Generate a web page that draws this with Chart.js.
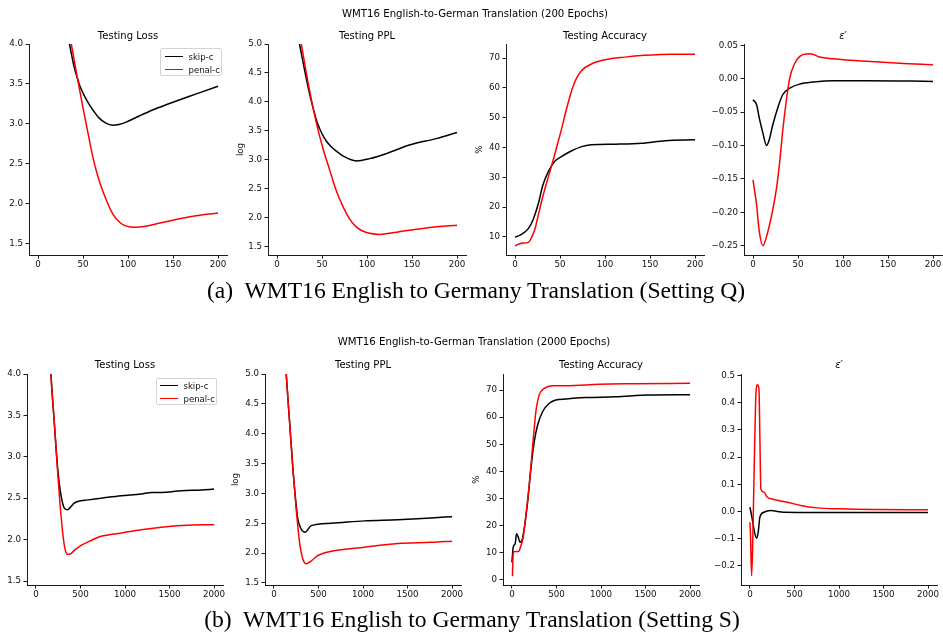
<!DOCTYPE html>
<html>
<head>
<meta charset="utf-8">
<script src="https://cdn.jsdelivr.net/npm/chart.js@4.4.0/dist/chart.umd.min.js"></script>
<style>
body { margin: 0; background: #fff; }
#fig { position: relative; width: 943px; height: 632px; overflow: hidden; font-family: "DejaVu Sans", sans-serif; color: #000; }
#fig canvas { position: absolute; }
.t { position: absolute; white-space: pre; line-height: 1; transform: translate(-50%, -50%); }
.ttl { font-size: 10px; }
.sup { font-size: 10.2px; }
.cap { font-family: "Liberation Serif", serif; font-size: 23.6px; }
.leg { position: absolute; border: 1px solid #d4d4d4; border-radius: 2px; background: #fff; box-sizing: border-box; }
.leg span { position: absolute; }
.leg .ln { height: 0; border-top: 1.5px solid; }
.leg .lb { font-size: 8.5px; line-height: 1; transform: translateY(-50%); color: #111; }
</style>
</head>
<body>
<div id="fig"></div>
<script>
// series names / colours
const seriesNames = ['skip-c', 'penal-c'];
const seriesColors = ['#000000', '#ff0000'];

// tick labels
const xTicksQ = [0, 50, 100, 150, 200];
const xTicksS = [0, 500, 1000, 1500, 2000];
const yTicksLoss = [1.5, 2.0, 2.5, 3.0, 3.5, 4.0];
const yTicksPPL = [1.5, 2.0, 2.5, 3.0, 3.5, 4.0, 4.5, 5.0];
const yTicksAccQ = [10, 20, 30, 40, 50, 60, 70];
const yTicksAccS = [0, 10, 20, 30, 40, 50, 60, 70];
const yTicksEpsQ = [-0.25, -0.20, -0.15, -0.10, -0.05, 0.00, 0.05];
const yTicksEpsS = [-0.2, -0.1, 0.0, 0.1, 0.2, 0.3, 0.4, 0.5];

// (a) setting Q, 200 epochs  -- [epoch, value]
const lossQSkip = [[22,4.75],[28,4.4],[35,4.0],[40,3.72],[44,3.56],[46,3.49],[52,3.34],[57,3.24],[63,3.14],[68,3.07],[75,3.01],[83,2.98],[90,2.99],[98,3.02],[113,3.1],[128,3.175],[150,3.27],[180,3.39],[200,3.47]];
const lossQPenal = [[25,4.75],[31,4.37],[37,4.0],[44,3.56],[50,3.2],[57,2.8],[61,2.58],[65,2.4],[69,2.25],[76,2.04],[83,1.87],[91,1.76],[98,1.715],[108,1.70],[118,1.71],[130,1.74],[150,1.79],[172,1.84],[200,1.88]];
const pplQSkip = [[20,5.42],[25,5.0],[30,4.6],[35,4.22],[40,3.9],[45,3.63],[50,3.45],[55,3.32],[60,3.23],[66,3.15],[74,3.06],[88,2.98],[103,3.02],[122,3.11],[148,3.26],[178,3.37],[200,3.47]];
const pplQPenal = [[22,5.45],[27,5.0],[36,4.21],[44,3.62],[51,3.2],[59,2.8],[66,2.46],[74,2.17],[81,1.97],[88,1.84],[95,1.77],[103,1.73],[114,1.71],[133,1.75],[155,1.8],[178,1.845],[200,1.87]];
const accQSkip = [[0,9.9],[7,10.9],[15,12.9],[20,15.7],[26,21.3],[31,27.4],[37,31.9],[44,35.3],[52,37],[63,38.9],[74,40.3],[85,40.9],[111,41.1],[141,41.4],[167,42.3],[200,42.6]];
const accQPenal = [[0,7],[7,7.9],[15,8.2],[18,9.6],[22,12.5],[26,17.5],[30,22.5],[35,28],[40,33.2],[44,37.5],[48,42],[52,46.5],[56,51.5],[60,56],[64,60],[68,63],[74,65.8],[85,68],[100,69.4],[122,70.3],[144,70.9],[174,71.3],[200,71.3]];
const epsQSkip = [[0,-0.0315],[4,-0.039],[7,-0.059],[11,-0.0815],[15,-0.1],[18,-0.0915],[22,-0.069],[28,-0.0415],[33,-0.024],[41,-0.014],[52,-0.008],[67,-0.005],[89,-0.003],[126,-0.003],[200,-0.004]];
const epsQPenal = [[0,-0.1515],[4,-0.189],[7,-0.229],[11,-0.25],[15,-0.2365],[20,-0.209],[26,-0.165],[30,-0.12],[33,-0.078],[37,-0.033],[41,0.002],[46,0.022],[52,0.0335],[59,0.037],[65,0.037],[74,0.0325],[89,0.03],[126,0.026],[163,0.023],[200,0.021]];

// (b) setting S, 2000 epochs
const lossSSkip = [[120,5.2],[169,4.0],[206,3.42],[244,2.86],[281,2.54],[319,2.38],[356,2.36],[394,2.4],[430,2.44],[469,2.46],[582,2.48],[732,2.5],[957,2.53],[1182,2.55],[1300,2.57],[1407,2.57],[1632,2.59],[1857,2.6],[2000,2.61]];
const lossSPenal = [[120,5.2],[169,4.0],[206,3.42],[244,2.82],[281,2.3],[319,1.93],[356,1.82],[394,1.83],[431,1.87],[507,1.93],[619,1.99],[732,2.04],[957,2.08],[1182,2.12],[1407,2.15],[1632,2.17],[1857,2.18],[2000,2.18]];
const pplSSkip = [[100,6.0],[138,5.0],[176,4.2],[213,3.42],[250,2.8],[269,2.57],[307,2.4],[350,2.35],[419,2.46],[643,2.5],[1017,2.54],[1391,2.56],[1764,2.59],[2000,2.61]];
const pplSPenal = [[100,6.0],[138,5.0],[176,4.2],[213,3.42],[250,2.74],[288,2.18],[325,1.9],[363,1.82],[419,1.87],[493,1.96],[643,2.03],[1017,2.1],[1391,2.16],[1764,2.18],[2000,2.2]];
const accSSkip = [[0,6.5],[15,12.1],[37,13.4],[52,17],[71,15.8],[90,13.9],[112,14.5],[138,18.9],[176,28.7],[213,41],[250,50.9],[288,57],[344,62],[419,65.1],[493,66.3],[606,66.7],[830,67.2],[1166,67.5],[1540,68.2],[2000,68.3]];
const accSPenal = [[6,1.4],[15,10.2],[45,10.5],[75,10.5],[101,12.7],[127,15.8],[157,23.8],[194,34.9],[232,49],[269,62],[307,68.2],[363,70.6],[456,71.6],[606,71.6],[980,72.1],[1353,72.3],[2000,72.5]];
const epsSSkip = [[0,0.0157],[26,-0.0275],[52,-0.077],[75,-0.098],[93,-0.077],[112,-0.021],[157,-0.003],[232,0.003],[381,-0.003],[755,-0.004],[2000,-0.004]];
const epsSPenal = [[0,-0.04],[7,-0.089],[19,-0.237],[30,-0.138],[45,0.108],[64,0.404],[82,0.466],[101,0.453],[112,0.27],[123,0.083],[157,0.071],[194,0.053],[269,0.044],[419,0.034],[568,0.022],[755,0.013],[1017,0.0095],[1391,0.007],[2000,0.0058]];

const fig = document.getElementById('fig');

function fmt(v, dec) {
  return (v < 0 ? '\u2212' : '') + Math.abs(v).toFixed(dec);
}

function addText(txt, x, y, cls) {
  const d = document.createElement('div');
  d.className = 't ' + cls;
  d.textContent = txt;
  d.style.left = x + 'px';
  d.style.top = y + 'px';
  fig.appendChild(d);
  return d;
}

function addLegend(x, y, w, h, rows, lineX, textX) {
  const box = document.createElement('div');
  box.className = 'leg';
  box.style.left = x + 'px'; box.style.top = y + 'px';
  box.style.width = w + 'px'; box.style.height = h + 'px';
  seriesNames.forEach((n, i) => {
    const ln = document.createElement('span');
    ln.className = 'ln';
    ln.style.left = lineX + 'px'; ln.style.top = (rows[i] - 1) + 'px';
    ln.style.width = '18px'; ln.style.borderTopColor = seriesColors[i];
    box.appendChild(ln);
    const lb = document.createElement('span');
    lb.className = 'lb';
    lb.textContent = n;
    lb.style.left = textX + 'px'; lb.style.top = rows[i] + 'px';
    box.appendChild(lb);
  });
  fig.appendChild(box);
}

function makeChart(p) {
  const YW = 40, TP = 8, RP = 14, XH = 24;
  const cv = document.createElement('canvas');
  const cw = p.w + YW + RP, ch = p.h + TP + XH;
  cv.width = cw; cv.height = ch;
  cv.style.width = cw + 'px'; cv.style.height = ch + 'px';
  cv.style.left = (p.left - YW) + 'px';
  cv.style.top = (p.top - TP) + 'px';
  fig.appendChild(cv);

  const tickFont = {family: 'DejaVu Sans', size: 8.7};
  const grid = {display: true, drawOnChartArea: false, drawTicks: true, tickLength: 3.5, color: '#000', lineWidth: 0.9};
  const border = {display: true, color: '#000', width: 0.9};

  new Chart(cv, {
    type: 'line',
    data: {
      datasets: p.series.map((s, i) => ({
        label: seriesNames[i],
        data: s.map(([x, y]) => ({x: x, y: y})),
        borderColor: seriesColors[i],
        borderWidth: 1.5,
        pointRadius: 0,
        cubicInterpolationMode: 'monotone',
        fill: false,
        order: 1 - i
      }))
    },
    options: {
      responsive: false,
      animation: false,
      devicePixelRatio: 1,
      layout: {padding: {left: 0, top: TP, right: RP, bottom: 0}},
      plugins: {legend: {display: false}, tooltip: {enabled: false}},
      scales: {
        x: {
          type: 'linear', min: p.xmin, max: p.xmax, bounds: 'data',
          afterBuildTicks: s => { s.ticks = p.xticks.map(v => ({value: v})); },
          afterFit: s => { s.height = XH; },
          ticks: {font: tickFont, color: '#111', padding: 1, autoSkip: false, maxRotation: 0, callback: v => String(v)},
          grid: grid, border: border
        },
        y: {
          type: 'linear', min: p.ymin, max: p.ymax, bounds: 'data',
          afterBuildTicks: s => { s.ticks = p.yticks.map(v => ({value: v})); },
          afterFit: s => { s.width = YW; },
          ticks: {font: tickFont, color: '#111', padding: 2.5, autoSkip: false, callback: v => fmt(v, p.ydec)},
          grid: grid, border: border,
          title: p.ylabel ? {display: true, text: p.ylabel, color: '#111', font: tickFont, padding: {top: p.ylabelPad, bottom: 0}} : {display: false}
        }
      }
    }
  });
  const t = addText(p.title, p.left + p.w / 2, p.titleY, 'ttl');
  if (p.italic) t.style.fontStyle = 'italic';
}

const topY = 44, botY = 374;
const panels = [
  {left: 29, top: topY, w: 198, h: 211, title: 'Testing Loss', titleY: 36, xmin: -10, xmax: 210, xticks: xTicksQ, ymin: 1.353, ymax: 4.0, yticks: yTicksLoss, ydec: 1, series: [lossQSkip, lossQPenal]},
  {left: 268, top: topY, w: 198, h: 211, title: 'Testing PPL', titleY: 36, ylabel: 'log', ylabelPad: 8, xmin: -10, xmax: 210, xticks: xTicksQ, ymin: 1.355, ymax: 5.0, yticks: yTicksPPL, ydec: 1, series: [pplQSkip, pplQPenal]},
  {left: 506, top: topY, w: 198, h: 211, title: 'Testing Accuracy', titleY: 36, ylabel: '%', ylabelPad: 8.5, xmin: -10, xmax: 210, xticks: xTicksQ, ymin: 3.96, ymax: 74.7, yticks: yTicksAccQ, ydec: 0, series: [accQSkip, accQPenal]},
  {left: 744, top: topY, w: 198, h: 211, title: 'ε′', italic: true, titleY: 36, xmin: -10, xmax: 210, xticks: xTicksQ, ymin: -0.264, ymax: 0.052, yticks: yTicksEpsQ, ydec: 2, series: [epsQSkip, epsQPenal]},
  {left: 27, top: botY, w: 196, h: 211, title: 'Testing Loss', titleY: 365, xmin: -100, xmax: 2100, xticks: xTicksS, ymin: 1.452, ymax: 4.0, yticks: yTicksLoss, ydec: 1, series: [lossSSkip, lossSPenal]},
  {left: 265, top: botY, w: 196, h: 211, title: 'Testing PPL', titleY: 365, ylabel: 'log', ylabelPad: 5.5, xmin: -100, xmax: 2100, xticks: xTicksS, ymin: 1.466, ymax: 5.0, yticks: yTicksPPL, ydec: 1, series: [pplSSkip, pplSPenal]},
  {left: 503, top: botY, w: 196, h: 211, title: 'Testing Accuracy', titleY: 365, ylabel: '%', ylabelPad: 9, xmin: -100, xmax: 2100, xticks: xTicksS, ymin: -1.85, ymax: 75.9, yticks: yTicksAccS, ydec: 0, series: [accSSkip, accSPenal]},
  {left: 741, top: botY, w: 196, h: 211, title: 'ε′', italic: true, titleY: 365, xmin: -100, xmax: 2100, xticks: xTicksS, ymin: -0.271, ymax: 0.506, yticks: yTicksEpsS, ydec: 1, series: [epsSSkip, epsSPenal]}
];

panels.forEach(makeChart);

addText('WMT16 English-to-German Translation (200 Epochs)', 475, 14, 'sup');
addText('WMT16 English-to-German Translation (2000 Epochs)', 474, 342, 'sup');
addText('(a)  WMT16 English to Germany Translation (Setting Q)', 476, 291, 'cap');
addText('(b)  WMT16 English to Germany Translation (Setting S)', 472, 620, 'cap');

addLegend(160, 48, 62, 28, [8, 20.5], 3.5, 27.5);
addLegend(156, 378, 61, 27, [7, 19.5], 2.5, 26.5);
</script>
</body>
</html>
